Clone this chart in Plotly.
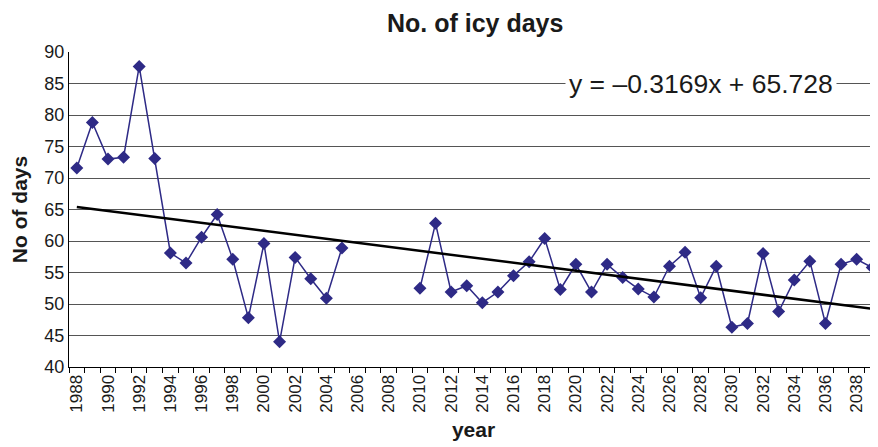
import plotly.graph_objects as go

years = list(range(1988, 2040))
icy_days = [71.6, 78.8, 73.0, 73.3, 87.7, 73.1, 58.1, 56.5, 60.6, 64.2,
            57.1, 47.8, 59.6, 44.0, 57.4, 54.0, 50.9, 58.9,
            None, None, None, None,
            52.5, 62.8, 51.9, 52.9, 50.2, 51.9, 54.5, 56.7, 60.4, 52.3,
            56.3, 51.9, 56.3, 54.2, 52.4, 51.1, 56.0, 58.2, 51.0, 56.0,
            46.3, 46.9, 58.0, 48.8, 53.8, 56.8, 46.9, 56.3, 57.1, 55.8]
trend_slope = -0.3169
trend_intercept = 65.728
tick_years = list(range(1988, 2040, 2))
y_ticks = list(range(40, 91, 5))

trend = [trend_slope * (i + 1) + trend_intercept for i in range(len(years))]

FONT = "Liberation Sans, Arial, sans-serif"
fig = go.Figure()
fig.add_trace(go.Scatter(x=years, y=icy_days, mode="lines+markers",
                         line=dict(color="#2E2A86", width=1.5),
                         marker=dict(symbol="diamond", size=10, color="#2E2A86"),
                         connectgaps=False, showlegend=False))
fig.add_trace(go.Scatter(x=years, y=trend, mode="lines",
                         line=dict(color="#000000", width=2.5), showlegend=False))

fig.add_annotation(x=2028, y=85, xref="x", yref="y",
                   text="y = \u20130.3169x + 65.728", showarrow=False,
                   font=dict(family=FONT, size=26.5, color="#1a1a1a"),
                   bgcolor="white", borderpad=3)

fig.update_layout(
    width=870, height=439,
    paper_bgcolor="white", plot_bgcolor="white",
    margin=dict(l=61, r=0, t=44, b=80),
    title=dict(text="<b>No. of icy days</b>", x=0.537, xanchor="center", y=0.985, yanchor="top",
               font=dict(family=FONT, size=25, color="#1a1a1a")),
    font=dict(family=FONT, color="#1a1a1a"),
    xaxis=dict(range=[1987.5, 2039.37], tickmode="array", tickvals=tick_years,
               ticktext=[str(y) for y in tick_years], tickangle=-90,
               tickfont=dict(size=17, family=FONT, color="#1a1a1a"),
               ticks="", showgrid=False, zeroline=False, automargin=False,
               showline=True, linecolor="black", linewidth=1.2,
               minor=dict(tick0=1988.5, dtick=1, ticks="outside", ticklen=5,
                          tickcolor="black", showgrid=False),
               title=dict(text="<b>year</b>", font=dict(size=21, family=FONT), standoff=10)),
    yaxis=dict(range=[40, 90], tickvals=y_ticks, tickfont=dict(size=18, family=FONT, color="#1a1a1a"),
               showgrid=True, gridcolor="#555555", gridwidth=1.2, zeroline=False, automargin=False,
               showline=True, linecolor="black", linewidth=1.2, ticks="",
               title=dict(text="<b>No of days</b>", font=dict(size=21, family=FONT), standoff=15)),
)

fig.write_html("out.html")
